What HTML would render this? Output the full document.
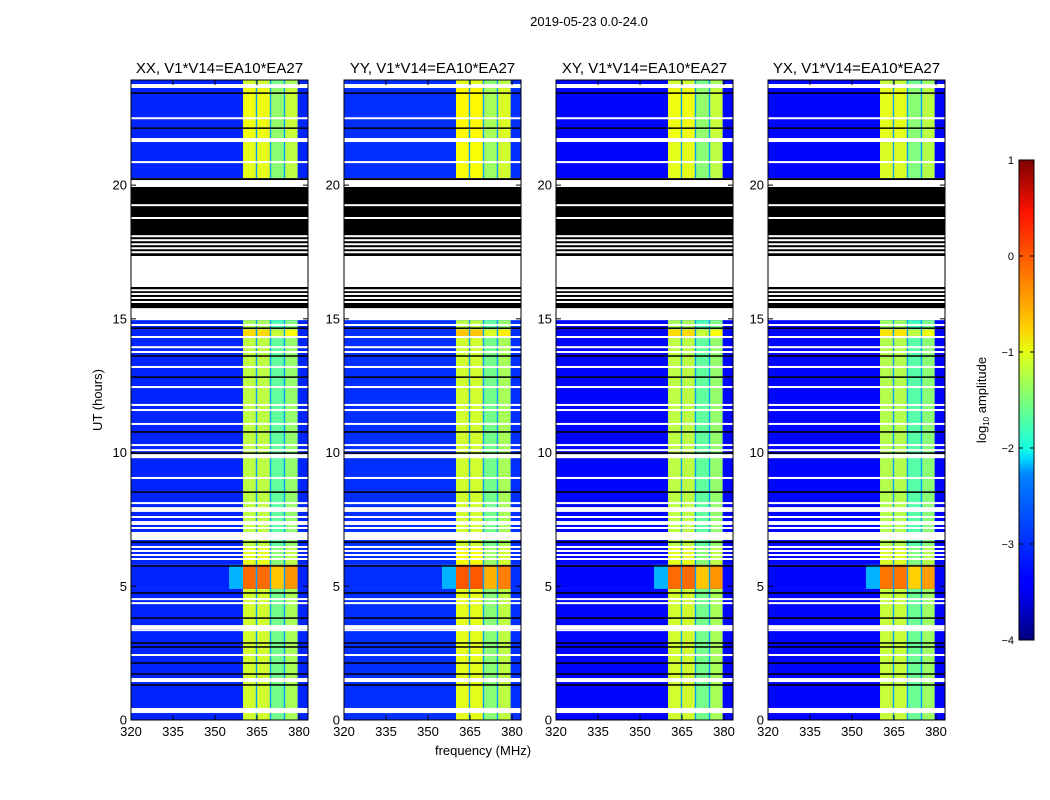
<!DOCTYPE html>
<html><head><meta charset="utf-8"><style>
html,body{margin:0;padding:0;background:#fff;}
svg{display:block;font-family:"Liberation Sans",sans-serif;}
</style></head><body>
<svg id="fig" width="1050" height="800" viewBox="0 0 1050 800" xmlns="http://www.w3.org/2000/svg">
<defs>
<linearGradient id="jetgrad" x1="0" y1="1" x2="0" y2="0">
<stop offset="0" stop-color="#00007f"/><stop offset="0.11" stop-color="#0000ff"/><stop offset="0.125" stop-color="#0000ff"/>
<stop offset="0.34" stop-color="#0080ff"/><stop offset="0.35" stop-color="#0090ff"/><stop offset="0.375" stop-color="#00d4ff"/>
<stop offset="0.4" stop-color="#16ffe1"/><stop offset="0.5" stop-color="#7dff7a"/><stop offset="0.6" stop-color="#e4ff13"/>
<stop offset="0.65" stop-color="#ffd000"/><stop offset="0.75" stop-color="#ff8000"/><stop offset="0.89" stop-color="#ff1300"/>
<stop offset="1" stop-color="#7f0000"/>
</linearGradient>
</defs>
<text x="589" y="26" font-size="13" text-anchor="middle">2019-05-23 0.0-24.0</text>
<text transform="translate(102,400) rotate(-90)" font-size="13" text-anchor="middle">UT (hours)</text>
<text x="483" y="755" font-size="13" text-anchor="middle">frequency (MHz)</text>
<g id="panels"></g>
<g id="cbar"></g>
</svg>
<script>
// ---- data (hours / MHz / log10 amplitude) ----
const panelTitles = ["XX, V1*V14=EA10*EA27","YY, V1*V14=EA10*EA27","XY, V1*V14=EA10*EA27","YX, V1*V14=EA10*EA27"];
const panelBackground = [-3.2, -3.15, -3.35, -3.35];
const panelBandOffset = [0, 0.1, 0, -0.05];
const subbandEdges = [360, 364.8, 369.8, 374.8, 379.5];
const subbandOffsets = [0, 0, -0.45, -0.2];
const dataSegStart = [23.93, 23.63, 21.61, 14.95, 14.6, 14.35, 6.5, 5.8, 4.9];
const dataSegEnd   = [23.78, 21.76, 20.26, 14.6, 14.35, 6.5, 5.8, 4.9, 0];
const dataSegBand  = [-1.1, -0.95, -1.0, -1.3, -0.7, -1.2, -1.0, -0.15, -1.1];
const blackSegStart = [20.26, 19.93, 16.19];
const blackSegEnd   = [20.19, 17.35, 15.40];
const whiteLines = [22.50,20.86,19.25,18.77,18.09,17.94,17.79,17.64,17.49,16.07,15.93,15.78,15.63,14.77,14.32,13.94,13.76,13.20,12.45,11.78,11.59,11.07,10.28,10.09,9.05,8.11,7.59,7.40,7.33,7.18,6.47,6.32,6.17,6.02,4.52,4.37,3.51,3.44,3.36,2.43];
const whiteBandStart = [9.94, 7.96, 7.03, 1.57, 0.45];
const whiteBandEnd   = [9.79, 7.78, 6.73, 1.42, 0.26];
const blackLines = [23.44,22.13,14.65,13.61,12.82,10.77,9.98,8.52,6.65,5.76,4.75,3.81,2.88,2.73,2.13,1.72,1.31];
const yTicks = [0,5,10,15,20];
const xTicks = [320,335,350,365,380];
const cbarTicks = [1,0,-1,-2,-3,-4];

// ---- layout ----
const panelLeft = [131,344,556,768];
const PW=177, PT=80, PB=720;
const fMin=320, fMax=383.2, hMin=0, hMax=23.93;
const vMin=-4, vMax=1;
const NS='http://www.w3.org/2000/svg';

function jet(v){
  let t=(v-vMin)/(vMax-vMin); t=Math.max(0,Math.min(1,t));
  const c=x=>Math.round(255*Math.max(0,Math.min(1,x)));
  return `rgb(${c(1.5-Math.abs(4*t-3))},${c(1.5-Math.abs(4*t-2))},${c(1.5-Math.abs(4*t-1))})`;
}
function el(tag, attrs, parent){
  const e=document.createElementNS(NS,tag);
  for(const k in attrs) e.setAttribute(k,attrs[k]);
  parent.appendChild(e); return e;
}
const panelsG=document.getElementById('panels');

panelTitles.forEach((title,p)=>{
  const L=panelLeft[p];
  const xs=f=>L+(f-fMin)/(fMax-fMin)*PW;
  const ys=h=>PB-(h-hMin)/(hMax-hMin)*(PB-PT);
  const g=el('g',{},panelsG);
  
  
  el('rect',{x:L,y:PT,width:PW,height:PB-PT,fill:'#fff'},g);
  const bg=panelBackground[p];
  dataSegStart.forEach((hs,i)=>{
    const y0=ys(hs), y1=ys(dataSegEnd[i]);
    const r=el('rect',{x:L,y:y0,width:PW,height:y1-y0,fill:jet(bg)},g);
    
    
    if(dataSegBand[i]>-0.5){
      el('rect',{x:xs(355),y:y0,width:xs(360)-xs(355),height:y1-y0,fill:jet(-2.5)},g);
    }
    for(let s=0;s<4;s++){
      const b=el('rect',{x:xs(subbandEdges[s]),y:y0,width:xs(subbandEdges[s+1])-xs(subbandEdges[s]),height:y1-y0,fill:jet(dataSegBand[i]+subbandOffsets[s]+panelBandOffset[p])},g);
      
      
    }
    for(let s=1;s<4;s++){
      el('rect',{x:xs(subbandEdges[s])-0.7,y:y0,width:1.4,height:y1-y0,fill:jet(-2.6)},g);
    }
  });
  blackSegStart.forEach((hs,i)=>{
    const y0=ys(hs), y1=ys(blackSegEnd[i]);
    el('rect',{x:L,y:y0,width:PW,height:y1-y0,fill:'#000'},g);
  });
  whiteLines.forEach(h=>{ el('rect',{x:L,y:ys(h)-1,width:PW,height:2,fill:'#fff'},g); });
  whiteBandStart.forEach((hs,i)=>{
    const y0=ys(hs), y1=ys(whiteBandEnd[i]);
    el('rect',{x:L,y:y0,width:PW,height:y1-y0,fill:'#fff'},g);
  });
  blackLines.forEach(h=>{ el('rect',{x:L,y:ys(h)-0.75,width:PW,height:1.5,fill:'#000'},g); });
  el('rect',{x:L,y:PT,width:PW,height:PB-PT,fill:'none',stroke:'#000','stroke-width':1},g);
  yTicks.forEach(h=>{
    const y=ys(h);
    el('line',{x1:L,y1:y,x2:L+5,y2:y,stroke:'#000'},g);
    el('line',{x1:L+PW,y1:y,x2:L+PW-5,y2:y,stroke:'#000'},g);
    const t=el('text',{x:L-4,y:y+4.5,'font-size':13,'text-anchor':'end'},g);
    t.textContent=h;
    
    
  });
  xTicks.forEach(f=>{
    const x=xs(f);
    el('line',{x1:x,y1:PB,x2:x,y2:PB-5,stroke:'#000'},g);
    el('line',{x1:x,y1:PT,x2:x,y2:PT+5,stroke:'#000'},g);
    const t=el('text',{x:x,y:PB+16,'font-size':13,'text-anchor':'middle'},g);
    t.textContent=f;
    
    
  });
  const tt=el('text',{x:L+PW/2,y:PT-7,'font-size':15,'text-anchor':'middle'},g);
  tt.textContent=title;
  
  
});

const cb=document.getElementById('cbar');
const CX=1019, CW=15, CT=160, CB=640;
const cy=v=>CB-(v-vMin)/(vMax-vMin)*(CB-CT);
el('rect',{x:CX,y:CT,width:CW,height:CB-CT,fill:'url(#jetgrad)',stroke:'#000','stroke-width':1},cb);
cbarTicks.forEach(v=>{
  const y=cy(v);
  el('line',{x1:CX,y1:y,x2:CX+4,y2:y,stroke:'#000'},cb);
  el('line',{x1:CX+CW,y1:y,x2:CX+CW-4,y2:y,stroke:'#000'},cb);
  const t=el('text',{x:CX-5,y:y+4,'font-size':11,'text-anchor':'end'},cb);
  t.textContent=(v<0?'\u2212'+(-v):String(v));
  
  
});
const cl=el('text',{transform:'translate(986,400) rotate(-90)','font-size':13,'text-anchor':'middle'},cb);


cl.innerHTML='log<tspan font-size="8" dy="3">10</tspan><tspan dy="-3"> amplitude</tspan>';
</script>
</body></html>
